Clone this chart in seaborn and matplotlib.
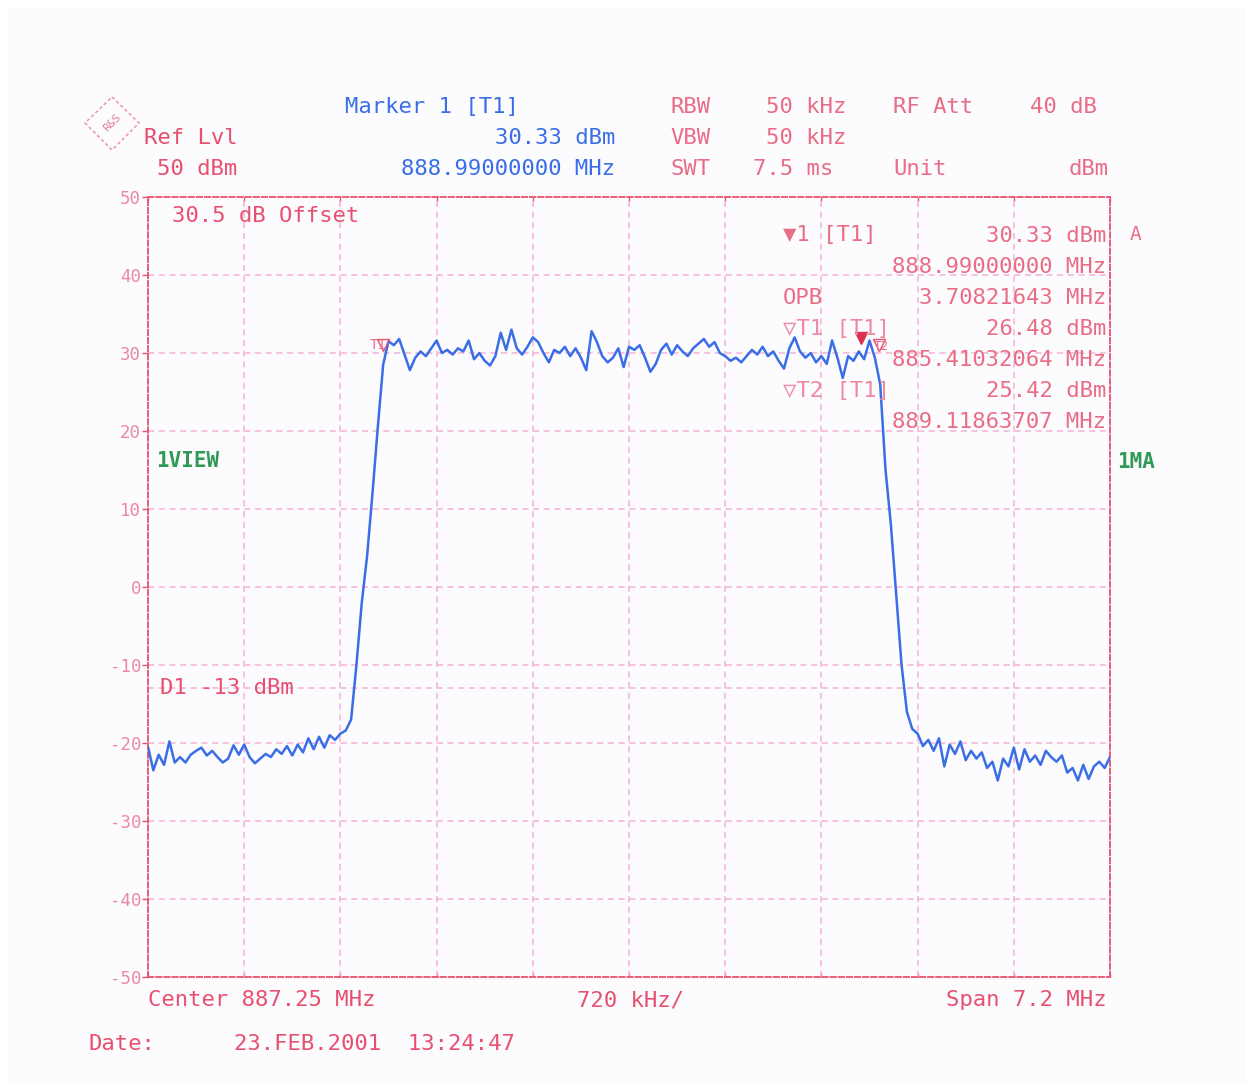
import numpy as np
import pandas as pd
import matplotlib
matplotlib.use("Agg")
import matplotlib.pyplot as plt
import seaborn as sns
from matplotlib.patches import Polygon

# ---------------- data ----------------
f_start = 883.65   # MHz
f_stop = 890.85    # MHz
n_points = 181

level_dbm = [
    -20.5, -23.5, -21.5, -22.8, -19.8, -22.5, -21.8, -22.5, -21.5, -21.0,
    -20.6, -21.6, -21.0, -21.8, -22.5, -22.0, -20.3, -21.5, -20.2, -21.8,
    -22.6, -22.0, -21.4, -21.8, -20.8, -21.4, -20.4, -21.6, -20.2, -21.2,
    -19.4, -20.8, -19.2, -20.6, -19.0, -19.6, -18.8, -18.4, -17.0, -10.0,
    -2.0, 4.0, 12.0, 20.5, 28.5, 31.5, 31.0, 31.8, 29.8, 27.8,
    29.4, 30.2, 29.6, 30.6, 31.6, 30.0, 30.4, 29.8, 30.6, 30.2,
    31.6, 29.2, 30.0, 29.0, 28.4, 29.6, 32.6, 30.4, 33.0, 30.6,
    29.8, 30.8, 32.0, 31.4, 30.0, 28.8, 30.4, 30.0, 30.8, 29.6,
    30.6, 29.4, 27.8, 32.8, 31.4, 29.6, 28.8, 29.4, 30.6, 28.2,
    30.8, 30.4, 31.0, 29.4, 27.6, 28.6, 30.4, 31.2, 29.8, 31.0,
    30.2, 29.6, 30.6, 31.2, 31.8, 30.8, 31.4, 30.0, 29.6, 29.0,
    29.4, 28.8, 29.6, 30.4, 29.8, 30.8, 29.6, 30.2, 29.0, 28.0,
    30.6, 32.0, 30.2, 29.4, 30.0, 28.8, 29.6, 28.6, 31.6, 29.4,
    26.8, 29.6, 29.0, 30.2, 29.2, 31.6, 29.4, 26.0, 15.0, 8.0,
    -1.0, -10.0, -16.0, -18.2, -18.8, -20.4, -19.6, -21.0, -19.4, -23.0,
    -20.2, -21.4, -19.8, -22.2, -21.0, -22.0, -21.2, -23.2, -22.4, -24.8,
    -22.0, -23.0, -20.6, -23.4, -20.8, -22.4, -21.6, -22.8, -21.0, -21.8,
    -22.4, -21.6, -23.8, -23.2, -24.8, -22.8, -24.6, -23.0, -22.4, -23.2,
    -21.8,
]

y_ticks = [50, 40, 30, 20, 10, 0, -10, -20, -30, -40, -50]
display_line_dbm = -13

marker1 = (888.99, 30.33)
marker_t1 = (885.41032064, 26.48)
marker_t2 = (889.11863707, 25.42)

# ---------------- style ----------------
W, H = 1252, 1088
RED = "#e8506f"
LRED = "#ea6d86"
PINK = "#f4b3d6"
BLUE = "#3a6ee6"
GREEN = "#2f9a55"
MONO = ["DejaVu Sans Mono", "DejaVu Sans"]

sns.set_theme(style="white")
plt.rcParams["font.family"] = MONO

fig = plt.figure(figsize=(W / 100, H / 100), dpi=100, facecolor="white")

# page background
bg = fig.add_axes([0, 0, 1, 1], zorder=-5)
bg.set_xlim(0, W)
bg.set_ylim(H, 0)
bg.axis("off")
bg.add_patch(plt.Rectangle((8, 8), W - 14, H - 12, facecolor="#fcfbfd",
                           edgecolor="none"))

# main axes in pixel geometry
L, R, T, B = 148, 1110, 197, 977
ax = fig.add_axes([L / W, 1 - B / H, (R - L) / W, (B - T) / H])
ax.set_facecolor("none")

df = pd.DataFrame({
    "freq": np.linspace(f_start, f_stop, n_points),
    "level": level_dbm,
})

# grid
step = (f_stop - f_start) / 10
for k in range(1, 10):
    ax.axvline(f_start + k * step, color=PINK, lw=1.1, ls=(0, (4, 3)), zorder=1)
for yv in y_ticks[1:-1]:
    ax.axhline(yv, color=PINK, lw=1.1, ls=(0, (4, 3)), zorder=1)
ax.axhline(display_line_dbm, color=PINK, lw=1.1, ls=(0, (4, 3)), zorder=1)

sns.lineplot(data=df, x="freq", y="level", ax=ax, color=BLUE, lw=1.8,
             zorder=3, legend=False)

ax.set_xlim(f_start, f_stop)
ax.set_ylim(-50, 50)
ax.set_xlabel("")
ax.set_ylabel("")
ax.set_xticks([f_start + k * step for k in range(11)])
ax.set_xticklabels([])
ax.set_yticks(y_ticks)
ax.set_yticklabels([str(v) for v in y_ticks])
ax.tick_params(axis="y", colors=RED, labelcolor="#ea8aa2", labelsize=12.5,
               length=4, width=1, pad=1, direction="out", left=True)
ax.tick_params(axis="x", colors=RED, length=3, width=1, direction="in",
               bottom=True, top=True)
for side in ["left", "right", "top", "bottom"]:
    sp = ax.spines[side]
    sp.set_visible(True)
    sp.set_color(RED)
    sp.set_linewidth(1.3)
    sp.set_linestyle((0, (3, 1.5)))

# markers on the trace
ax.plot([marker1[0]], [marker1[1] + 1.6], marker="v", color="#e0304f",
        ms=9, ls="none", zorder=5)
ax.plot([marker_t1[0]], [31.0], marker="v", mfc="none", mec=RED, ms=8,
        ls="none", zorder=4)
ax.plot([marker_t2[0]], [31.0], marker="v", mfc="none", mec=RED, ms=8,
        ls="none", zorder=4)

# overlay for text in pixel coordinates
ov = fig.add_axes([0, 0, 1, 1], zorder=10)
ov.set_xlim(0, W)
ov.set_ylim(H, 0)
ov.axis("off")
ov.patch.set_alpha(0)

FS = 16


def t(x, y, s, color=RED, ha="left", fs=FS, **kw):
    ov.text(x, y, s, color=color, ha=ha, va="center", fontsize=fs,
            family=MONO, **kw)


# logo
ov.add_patch(Polygon([(112, 97), (139, 123), (112, 150), (85, 123)],
                     closed=True, fill=False, edgecolor="#ef9ab6", lw=1.2,
                     ls=(0, (2, 1.5))))
t(112, 123, "R&S", color="#e57c98", ha="center", fs=8, rotation=45)

# header
t(345, 107, "Marker 1 [T1]", color=BLUE)
t(615, 138, "30.33 dBm", color=BLUE, ha="right")
t(615, 169, "888.99000000 MHz", color=BLUE, ha="right")
t(144, 138, "Ref Lvl")
t(157, 169, "50 dBm")
t(670, 107, "RBW", color=LRED)
t(846, 107, "50 kHz", color=LRED, ha="right")
t(893, 107, "RF Att", color=LRED)
t(1097, 107, "40 dB", color=LRED, ha="right")
t(670, 138, "VBW", color=LRED)
t(846, 138, "50 kHz", color=LRED, ha="right")
t(670, 169, "SWT", color=LRED)
t(833, 169, "7.5 ms", color=LRED, ha="right")
t(893, 169, "Unit", color=LRED)
t(1109, 169, "dBm", color=LRED, ha="right")

# inside plot
t(172, 216, "30.5 dB Offset")
t(783, 235, "\u25bc1 [T1]", color=LRED)
t(1106, 236, "30.33 dBm", color=LRED, ha="right")
t(1130, 235, "A", color=LRED, fs=14)
t(1106, 267, "888.99000000 MHz", color=LRED, ha="right")
t(783, 298, "OPB", color=LRED)
t(1106, 298, "3.70821643 MHz", color=LRED, ha="right")
t(783, 329, "\u25bdT1 [T1]", color="#f08aa0")
t(1106, 329, "26.48 dBm", color=LRED, ha="right")
t(1106, 360, "885.41032064 MHz", color=LRED, ha="right")
t(783, 391, "\u25bdT2 [T1]", color="#f08aa0")
t(1106, 391, "25.42 dBm", color=LRED, ha="right")
t(1106, 422, "889.11863707 MHz", color=LRED, ha="right")
t(370, 345, "T1", color=LRED, fs=10)
t(889, 347, "T2", color=LRED, fs=9, ha="right")

t(156, 461, "1VIEW", color=GREEN, fontweight="bold", fs=15)
t(1117, 462, "1MA", color=GREEN, fontweight="bold", fs=15)
t(160, 688, "D1 -13 dBm")

# footer
t(148, 1000, "Center 887.25 MHz")
t(577, 1000, "720 kHz/")
t(1106, 1000, "Span 7.2 MHz", ha="right")
t(88, 1044, "Date:")
t(234, 1044, "23.FEB.2001  13:24:47")

fig.savefig("out.png", dpi=100, facecolor=fig.get_facecolor())
